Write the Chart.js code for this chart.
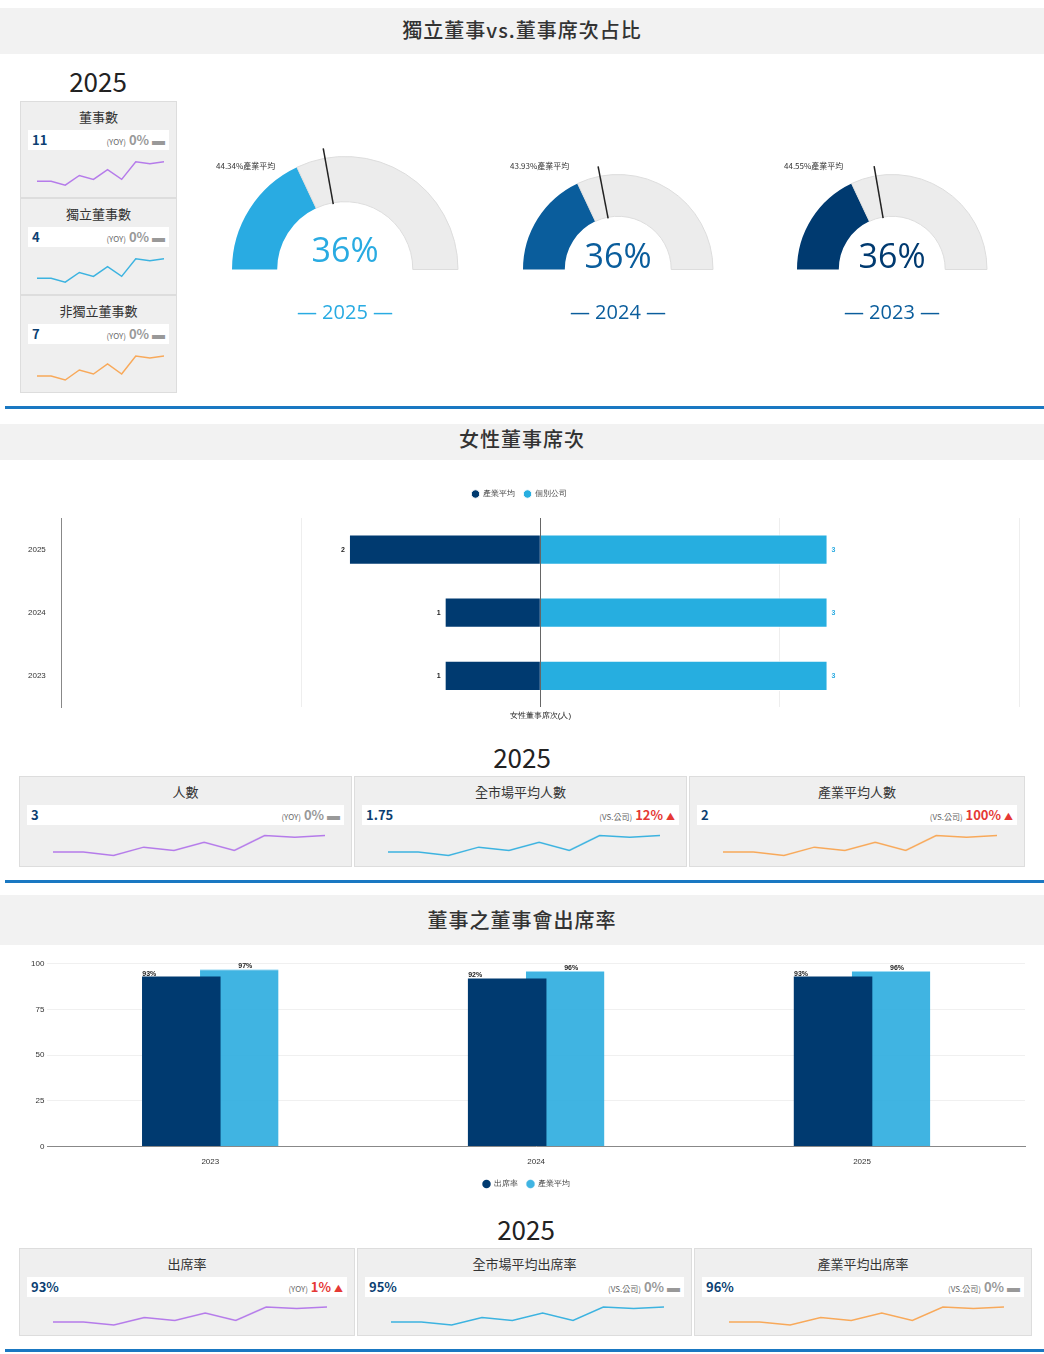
<!DOCTYPE html>
<html><head><meta charset="utf-8">
<script src="https://cdn.jsdelivr.net/npm/chart.js@4.4.1/dist/chart.umd.min.js"></script>
<style>
body{margin:0;width:1044px;height:1354px;background:#fff;font-family:"Noto Sans CJK TC","Noto Sans",sans-serif;position:relative;overflow:hidden}
.abs{position:absolute}
.hdr{position:absolute;left:0;width:1044px;background:#f2f2f2;color:#333;font-size:20px;text-align:center;font-weight:500;letter-spacing:1px}
.line{position:absolute;left:5px;width:1039px;height:3px;background:#1a78c2}
.card{position:absolute;background:#efefef;border:1px solid #ddd;box-sizing:border-box}
.card .t{position:absolute;left:0;right:0;text-align:center;font-size:13px;color:#333}
.card .row{position:absolute;background:#fff;height:20px}
.card .v{position:absolute;left:4px;top:0;font-size:13px;font-weight:bold;color:#0c3f72;line-height:20px}
.card .c{position:absolute;right:4px;top:0;font-size:13px;color:#999;line-height:20px;white-space:nowrap}
.card .c small{font-size:8px;color:#666}
.card canvas{position:absolute}
.big{position:absolute;font-size:26px;color:#222;text-align:center}
</style></head><body>
<div class="hdr" style="top:8px;height:46px;line-height:44px">獨立董事vs.董事席次占比</div>
<div class="big" style="left:48px;width:100px;top:62px">2025</div>
<div class="line" style="top:406px"></div>
<div class="hdr" style="top:424px;height:36px;line-height:30px">女性董事席次</div>
<canvas id="fem" class="abs" style="left:10px;top:480px;width:1030px;height:245px"></canvas>
<div class="big" style="left:472px;width:100px;top:738px">2025</div>
<div class="line" style="top:880px"></div>
<div class="hdr" style="top:895px;height:50px;line-height:50px">董事之董事會出席率</div>
<canvas id="att" class="abs" style="left:10px;top:956px;width:1030px;height:242px"></canvas>
<div class="big" style="left:476px;width:100px;top:1210px">2025</div>
<div class="line" style="top:1349px"></div>
<script>
const trend=[10,10,9,11.5,10.5,13,10.5,15,14.5,15];
const gaugeYears=['2025','2024','2023'];
const gaugeValues=[36,36,36];
const gaugeIndustry=[44.34,43.93,44.55];
const femYears=['2025','2024','2023'];
const femIndustry=[2,1,1];
const femCompany=[3,3,3];
const attYears=['2023','2024','2025'];
const attRate=[93,92,93];
const attIndustry=[97,96,96];
const up='<span style="color:#e53935;font-size:9px">▲</span>', eq='<span style="color:#999">▬</span>';
const cards=[
 {x:20,y:101,w:157,h:97,t:'董事數',v:'11',lab:'(YOY)',p:'0%',s:eq,pc:'#999',col:'#b57bea'},
 {x:20,y:198,w:157,h:97,t:'獨立董事數',v:'4',lab:'(YOY)',p:'0%',s:eq,pc:'#999',col:'#3cb3e0'},
 {x:20,y:295,w:157,h:98,t:'非獨立董事數',v:'7',lab:'(YOY)',p:'0%',s:eq,pc:'#999',col:'#f8a95a'},
 {x:19,y:776,w:333,h:91,t:'人數',v:'3',lab:'(YOY)',p:'0%',s:eq,pc:'#999',col:'#b57bea'},
 {x:354,y:776,w:333,h:91,t:'全市場平均人數',v:'1.75',lab:'(VS.公司)',p:'12%',s:up,pc:'#e53935',col:'#3cb3e0'},
 {x:689,y:776,w:336,h:91,t:'產業平均人數',v:'2',lab:'(VS.公司)',p:'100%',s:up,pc:'#e53935',col:'#f8a95a'},
 {x:19,y:1248,w:336,h:88,t:'出席率',v:'93%',lab:'(YOY)',p:'1%',s:up,pc:'#e53935',col:'#b57bea'},
 {x:357,y:1248,w:335,h:88,t:'全市場平均出席率',v:'95%',lab:'(VS.公司)',p:'0%',s:eq,pc:'#999',col:'#3cb3e0'},
 {x:694,y:1248,w:338,h:88,t:'產業平均出席率',v:'96%',lab:'(VS.公司)',p:'0%',s:eq,pc:'#999',col:'#f8a95a'}];
cards.forEach((c,i)=>{
 const d=document.createElement('div');d.className='card';
 Object.assign(d.style,{left:c.x+'px',top:c.y+'px',width:c.w+'px',height:c.h+'px'});
 d.innerHTML=`<div class="t" style="top:5px">${c.t}</div><div class="row" style="left:7px;right:7px;top:28px"><div class="v">${c.v}</div><div class="c"><small>${c.lab}</small> <b style="color:${c.pc};font-weight:600">${c.p}</b> ${c.s}</div></div><canvas id="sp${i}" style="left:10%;width:82%;top:52px;height:${c.h-58}px"></canvas>`;
 document.body.appendChild(d);
 new Chart(document.getElementById('sp'+i),{type:'line',data:{labels:trend.map((_,k)=>k),datasets:[{data:trend,borderColor:c.col,borderWidth:1.5,pointRadius:0,tension:0}]},
 options:{animation:false,responsive:false,plugins:{legend:{display:false},tooltip:{enabled:false}},scales:{x:{display:false},y:{display:false,min:7,max:17}}}});
});
// gauges
const gauges=[{cx:345,by:270,r:114,col:'#29abe2'},{cx:618,by:270,r:96,col:'#0a5d9c'},{cx:892,by:270,r:96,col:'#003a70'}];
const needle={id:'needle',afterDatasetsDraw(ch,a,o){const m=ch.getDatasetMeta(0).data[0];const ctx=ch.ctx;const p=o.value/100;
 const ang=Math.PI*(1+p);ctx.save();ctx.strokeStyle='#222';ctx.lineWidth=1.5;ctx.beginPath();
 ctx.moveTo(m.x+Math.cos(ang)*m.innerRadius*0.98,m.y+Math.sin(ang)*m.innerRadius*0.98);
 ctx.lineTo(m.x+Math.cos(ang)*(m.outerRadius+10),m.y+Math.sin(ang)*(m.outerRadius+10));ctx.stroke();ctx.restore();}};
const add=(html,st)=>{const d=document.createElement('div');d.className='abs';d.innerHTML=html;Object.assign(d.style,st);document.body.appendChild(d);};
gauges.forEach((g,i)=>{
 const P=12,W=g.r*2+2*P,H=g.r+P;
 const cv=document.createElement('canvas');cv.className='abs';
 Object.assign(cv.style,{left:(g.cx-W/2)+'px',top:(g.by-H)+'px',width:W+'px',height:H+'px'});
 cv.width=W;cv.height=H;document.body.appendChild(cv);
 new Chart(cv,{type:'doughnut',plugins:[needle],data:{labels:['a','b'],datasets:[{data:[gaugeValues[i],100-gaugeValues[i]],backgroundColor:[g.col,'#ececec'],borderColor:['#fff','#ddd'],borderWidth:[0,1]}]},
 options:{animation:false,responsive:false,rotation:-90,circumference:180,cutout:i==0?'60%':'56%',layout:{padding:{left:P,right:P,top:P,bottom:0}},
  plugins:{legend:{display:false},tooltip:{enabled:false},needle:{value:gaugeIndustry[i]}}}});
 add(gaugeValues[i]+'%',{left:(g.cx-60)+'px',width:'120px',textAlign:'center',top:(g.by-(i==0?44:38))+'px',fontSize:'34px',color:g.col,fontFamily:'"Open Sans"'});
 add('— '+gaugeYears[i]+' —',{left:(g.cx-80)+'px',width:'160px',textAlign:'center',top:'298px',fontSize:'20px',color:i==0?'#29abe2':'#0a5d9c',fontFamily:'"Open Sans"'});
 add(gaugeIndustry[i]+'%產業平均',{left:(g.cx-g.r-(i==0?15:12))+'px',top:'160px',fontSize:'8px',color:'#333'});
});
// female chart
const valLab={id:'vl',afterDatasetsDraw(ch){const ctx=ch.ctx;ctx.save();ctx.font='bold 7px sans-serif';ctx.textBaseline='middle';
 ch.data.datasets.forEach((ds,di)=>{ch.getDatasetMeta(di).data.forEach((b,j)=>{const v=Math.abs(ds.data[j]);ctx.fillStyle=di?'#29abe2':'#222';
  ctx.textAlign=di?'left':'right';ctx.fillText(v,b.x+(di?4:-4),b.y);});});ctx.restore();}};
const legPad={id:'legPad',beforeInit(ch){const f=ch.legend.fit;ch.legend.fit=function(){f.bind(ch.legend)();this.height+=ch.options.plugins.legPad.h;};}};
new Chart(document.getElementById('fem'),{type:'bar',plugins:[valLab,legPad],data:{labels:femYears,datasets:[
 {label:'產業平均',data:femIndustry.map(v=>-v),backgroundColor:'#003a70',borderColor:'#fff',borderWidth:1,barPercentage:0.48,categoryPercentage:1},
 {label:'個別公司',data:femCompany,backgroundColor:'#26aee0',borderColor:'#fff',borderWidth:1,barPercentage:0.48,categoryPercentage:1}]},
 options:{indexAxis:'y',animation:false,responsive:false,maintainAspectRatio:false,layout:{padding:{left:10,right:21}},
 plugins:{legPad:{h:10},legend:{position:'top',labels:{usePointStyle:true,pointStyle:'circle',boxWidth:6,boxHeight:6,font:{size:8},color:'#444'}},tooltip:{enabled:false}},
 scales:{x:{stacked:true,min:-5,max:5,ticks:{display:false,stepSize:2.5},grid:{color:c=>c.tick.value===0?'#666':'#eee',drawTicks:false},border:{display:false},
  title:{display:true,text:'女性董事席次(人)',font:{size:8},color:'#222',padding:4}},
  y:{stacked:true,ticks:{font:{size:8},color:'#333',padding:8},grid:{display:false},border:{color:'#888'}}}}});
// attendance chart
const shift={id:'shift',afterDatasetsUpdate(ch){ch.data.datasets.forEach((ds,di)=>{ch.getDatasetMeta(di).data.forEach(b=>{b.x+=di?29:-29;});});}};
const pctLab={id:'pl',afterDatasetsDraw(ch){const ctx=ch.ctx;ctx.save();ctx.font='bold 7px sans-serif';ctx.fillStyle='#222';ctx.textAlign='center';
 ch.data.datasets.forEach((ds,di)=>{ch.getDatasetMeta(di).data.forEach((b,j)=>{ctx.fillText(ds.data[j]+'%',b.x+(di?6:-32),b.y-3);});});ctx.restore();}};
new Chart(document.getElementById('att'),{type:'bar',plugins:[shift,pctLab],data:{labels:attYears,datasets:[
 {label:'出席率',data:attRate,backgroundColor:'#003a70',categoryPercentage:1,barPercentage:0.241,grouped:false},
 {label:'產業平均',data:attIndustry,backgroundColor:'rgba(38,170,222,0.88)',borderColor:'#9fdcf4',borderWidth:{top:1,left:0,right:0,bottom:0},categoryPercentage:1,barPercentage:0.241,grouped:false}]},
 options:{animation:false,responsive:false,maintainAspectRatio:false,layout:{padding:{left:18,right:15}},
 plugins:{legend:{position:'bottom',labels:{usePointStyle:true,pointStyle:'circle',boxWidth:6,boxHeight:6,font:{size:8},color:'#444'}},tooltip:{enabled:false}},
 scales:{y:{min:0,max:100,ticks:{stepSize:25,font:{size:8},color:'#333'},grid:{color:'#f0f0f0',drawTicks:false},border:{display:false}},
  x:{ticks:{font:{size:8},color:'#333'},grid:{display:false},border:{color:'#888'}}}}});
</script></body></html>
